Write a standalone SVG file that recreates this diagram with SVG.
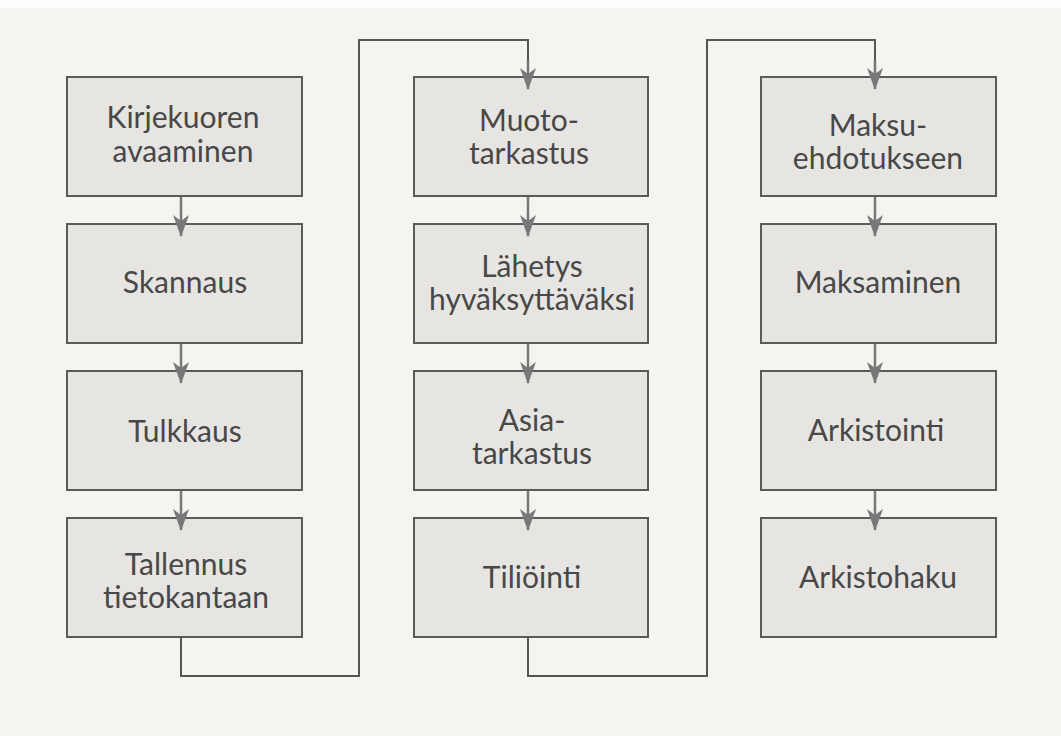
<svg xmlns="http://www.w3.org/2000/svg" width="1061" height="736" viewBox="0 0 1061 736">
  <style>
    .box { fill: #e6e5e2; stroke: #5a5a5a; stroke-width: 2; }
    .lbl { font-family: Lato, "Open Sans", "Liberation Sans", sans-serif; font-size: 30px; fill: #484848; text-anchor: middle; }
    .con { fill: none; stroke: #555; stroke-width: 2; }
  </style>
  <defs>
    <marker id="ahb" viewBox="0 0 22 16" refX="21" refY="8" markerWidth="22" markerHeight="16" markerUnits="userSpaceOnUse" orient="auto">
      <path d="M0,0 L22,8 L0,16 L6,8 Z" fill="#787878"/>
    </marker>
  </defs>
  <rect x="0" y="0" width="1061" height="736" fill="#f6f4f0"/>
  <rect x="0" y="0" width="1061" height="8" fill="#fdfdfc"/>

  <g id="n1"><rect class="box" x="67" y="77" width="235" height="119"/><text class="lbl" x="183" y="128">Kirjekuoren</text><text class="lbl" x="183" y="162">avaaminen</text></g>
  <g id="n2"><rect class="box" x="67" y="224" width="235" height="119"/><text class="lbl" x="185" y="293">Skannaus</text></g>
  <g id="n3"><rect class="box" x="67" y="371" width="235" height="119"/><text class="lbl" x="185" y="442">Tulkkaus</text></g>
  <g id="n4"><rect class="box" x="67" y="518" width="235" height="119"/><text class="lbl" x="186" y="575">Tallennus</text><text class="lbl" x="186" y="608">tietokantaan</text></g>

  <g id="n5"><rect class="box" x="414" y="77" width="234" height="119"/><text class="lbl" x="529" y="131">Muoto-</text><text class="lbl" x="529" y="164">tarkastus</text></g>
  <g id="n6"><rect class="box" x="414" y="224" width="234" height="119"/><text class="lbl" x="532" y="277">Lähetys</text><text class="lbl" x="532" y="310">hyväksyttäväksi</text></g>
  <g id="n7"><rect class="box" x="414" y="371" width="234" height="119"/><text class="lbl" x="532" y="431">Asia-</text><text class="lbl" x="532" y="464">tarkastus</text></g>
  <g id="n8"><rect class="box" x="414" y="518" width="234" height="119"/><text class="lbl" x="532" y="588">Tiliöinti</text></g>

  <g id="n9"><rect class="box" x="761" y="77" width="235" height="119"/><text class="lbl" x="878" y="136">Maksu-</text><text class="lbl" x="878" y="169">ehdotukseen</text></g>
  <g id="n10"><rect class="box" x="761" y="224" width="235" height="119"/><text class="lbl" x="878" y="293">Maksaminen</text></g>
  <g id="n11"><rect class="box" x="761" y="371" width="235" height="119"/><text class="lbl" x="876" y="441">Arkistointi</text></g>
  <g id="n12"><rect class="box" x="761" y="518" width="235" height="119"/><text class="lbl" x="878" y="588">Arkistohaku</text></g>

  <g id="connectors">
    <path class="con" d="M181,638 V676 H359 V40 H528 V70"/>
    <path class="con" d="M528,638 V676 H707 V40 H875 V70"/>
    <g fill="none" stroke="#787878" stroke-width="2.5" marker-end="url(#ahb)">
      <line x1="528" y1="60" x2="528" y2="89"/>
      <line x1="875" y1="60" x2="875" y2="89"/>
      <line x1="181" y1="197" x2="181" y2="236"/>
      <line x1="181" y1="344" x2="181" y2="383"/>
      <line x1="181" y1="491" x2="181" y2="530"/>
      <line x1="528" y1="197" x2="528" y2="236"/>
      <line x1="528" y1="344" x2="528" y2="383"/>
      <line x1="528" y1="491" x2="528" y2="530"/>
      <line x1="875" y1="197" x2="875" y2="236"/>
      <line x1="875" y1="344" x2="875" y2="383"/>
      <line x1="875" y1="491" x2="875" y2="530"/>
    </g>
  </g>
</svg>
